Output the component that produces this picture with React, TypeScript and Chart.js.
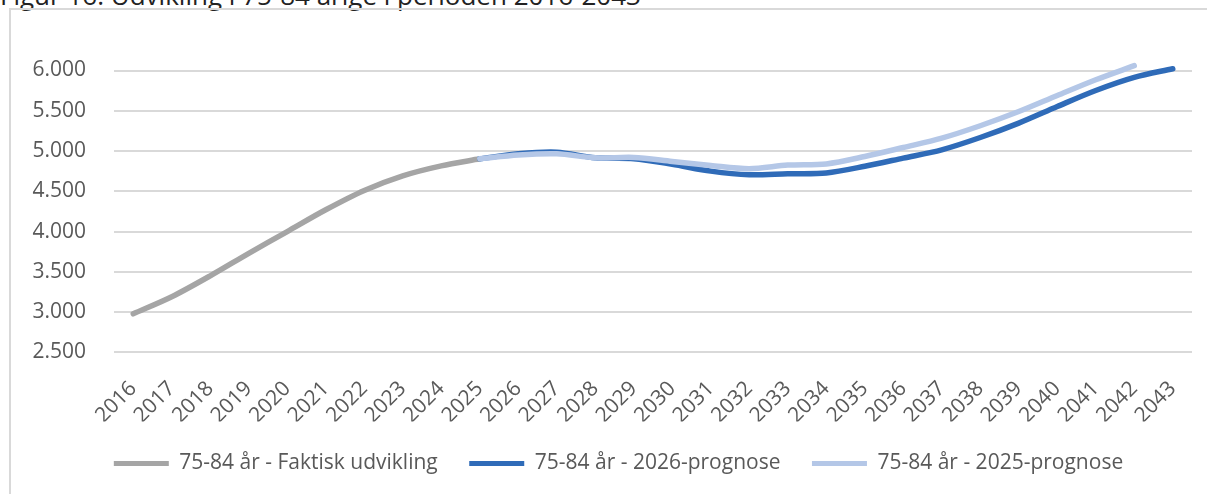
import React, { useEffect, useRef } from "react";
import { Chart, registerables } from "chart.js";

Chart.register(...registerables);

const title = "Figur 16: Udvikling i 75-84 årige i perioden 2016-2043";

const years = [
  "2016", "2017", "2018", "2019", "2020", "2021", "2022", "2023", "2024", "2025",
  "2026", "2027", "2028", "2029", "2030", "2031", "2032", "2033", "2034", "2035",
  "2036", "2037", "2038", "2039", "2040", "2041", "2042", "2043",
];

const seriesNames = [
  "75-84 år - Faktisk udvikling",
  "75-84 år - 2026-prognose",
  "75-84 år - 2025-prognose",
];

const faktisk = [
  2978, 3190, 3450, 3730, 4000, 4270, 4510, 4692, 4816, 4903,
  null, null, null, null, null, null, null, null, null, null,
  null, null, null, null, null, null, null, null,
];

const prognose2026 = [
  null, null, null, null, null, null, null, null, null, 4903,
  4965, 4985, 4915, 4905, 4835, 4750, 4705, 4718, 4727, 4810,
  4912, 5015, 5168, 5347, 5553, 5752, 5915, 6022,
];

const prognose2025 = [
  null, null, null, null, null, null, null, null, null, 4903,
  4950, 4965, 4915, 4920, 4870, 4820, 4780, 4825, 4840, 4932,
  5044, 5160, 5314, 5490, 5689, 5885, 6060, null,
];

const colors = ["#A5A5A5", "#2F6BB8", "#B4C7E7"];

const FONT = "'Open Sans', 'DejaVu Sans', sans-serif";
const TEXT = "#595959";

function fmt(v: number): string {
  const s = Math.round(v).toString();
  return s.replace(/\B(?=(\d{3})+(?!\d))/g, ".");
}

const legendShift = {
  id: "legendShift",
  afterLayout(chart: any) {
    const l = chart.legend;
    if (l) {
      l.left += 22.5;
      l.right += 22.5;
    }
  },
};

export default function App() {
  const ref = useRef<HTMLCanvasElement | null>(null);

  useEffect(() => {
    if (!ref.current) return;
    const series = [faktisk, prognose2026, prognose2025];
    const orders = [2, 1, 0];
    const chart = new Chart(ref.current, {
      type: "line",
      data: {
        labels: years,
        datasets: series.map((d, i) => ({
          label: seriesNames[i],
          data: d,
          borderColor: colors[i],
          backgroundColor: colors[i],
          borderWidth: 5.5,
          borderCapStyle: "round" as const,
          borderJoinStyle: "round" as const,
          pointRadius: 0,
          pointHoverRadius: 0,
          tension: 0.3,
          fill: false,
          spanGaps: false,
          clip: false as any,
          order: orders[i],
        })),
      },
      plugins: [legendShift],
      options: {
        responsive: false,
        animation: false,
        layout: { padding: { left: 0, right: 15, top: 70.5, bottom: 10 } },
        plugins: {
          tooltip: { enabled: false },
          legend: {
            position: "bottom",
            labels: {
              font: { family: FONT, size: 21 },
              color: TEXT,
              boxWidth: 55,
              boxHeight: 5,
              padding: 31.5,
              generateLabels: (c: any) =>
                c.data.datasets.map((ds: any, i: number) => ({
                  text: ds.label,
                  fillStyle: colors[i],
                  strokeStyle: colors[i],
                  lineWidth: 0,
                  hidden: false,
                  datasetIndex: i,
                  fontColor: TEXT,
                })),
            },
          },
        },
        scales: {
          x: {
            offset: true,
            grid: { display: false, drawTicks: false },
            border: { display: false },
            ticks: {
              font: { family: FONT, size: 21 },
              color: TEXT,
              minRotation: 45,
              maxRotation: 45,
              autoSkip: false,
              padding: 24,
            },
            afterFit: (scale: any) => {
              scale.height = 69.2;
              scale.paddingLeft = 0;
              scale.paddingRight = 0;
            },
          },
          y: {
            min: 2500,
            max: 6000,
            grid: { color: "#D9D9D9", lineWidth: 2, drawTicks: false },
            border: { display: false },
            ticks: {
              stepSize: 500,
              font: { family: FONT, size: 21 },
              color: TEXT,
              padding: 28,
              callback: (v: any) => fmt(Number(v)),
            },
            afterFit: (scale: any) => {
              scale.width = 114;
              scale.paddingTop = 0;
              scale.paddingBottom = 0;
            },
          },
        },
      },
    });
    return () => chart.destroy();
  }, []);

  return (
    <div
      style={{
        position: "fixed",
        left: 0,
        top: 0,
        width: 1207,
        height: 494,
        overflow: "hidden",
        background: "#fff",
      }}
    >
      <div
        style={{
          position: "absolute",
          left: 0,
          top: -18,
          fontFamily: FONT,
          fontSize: 26,
          lineHeight: "26px",
          color: "#222",
          whiteSpace: "nowrap",
        }}
      >
        {title}
      </div>
      <div
        style={{
          position: "absolute",
          left: 9,
          top: 8,
          width: 1400,
          height: 700,
          borderLeft: "2px solid #D9D9D9",
          borderTop: "2px solid #D9D9D9",
        }}
      />
      <canvas
        ref={ref}
        width={1207}
        height={494}
        style={{ position: "absolute", left: 0, top: 0, width: 1207, height: 494 }}
      />
    </div>
  );
}
